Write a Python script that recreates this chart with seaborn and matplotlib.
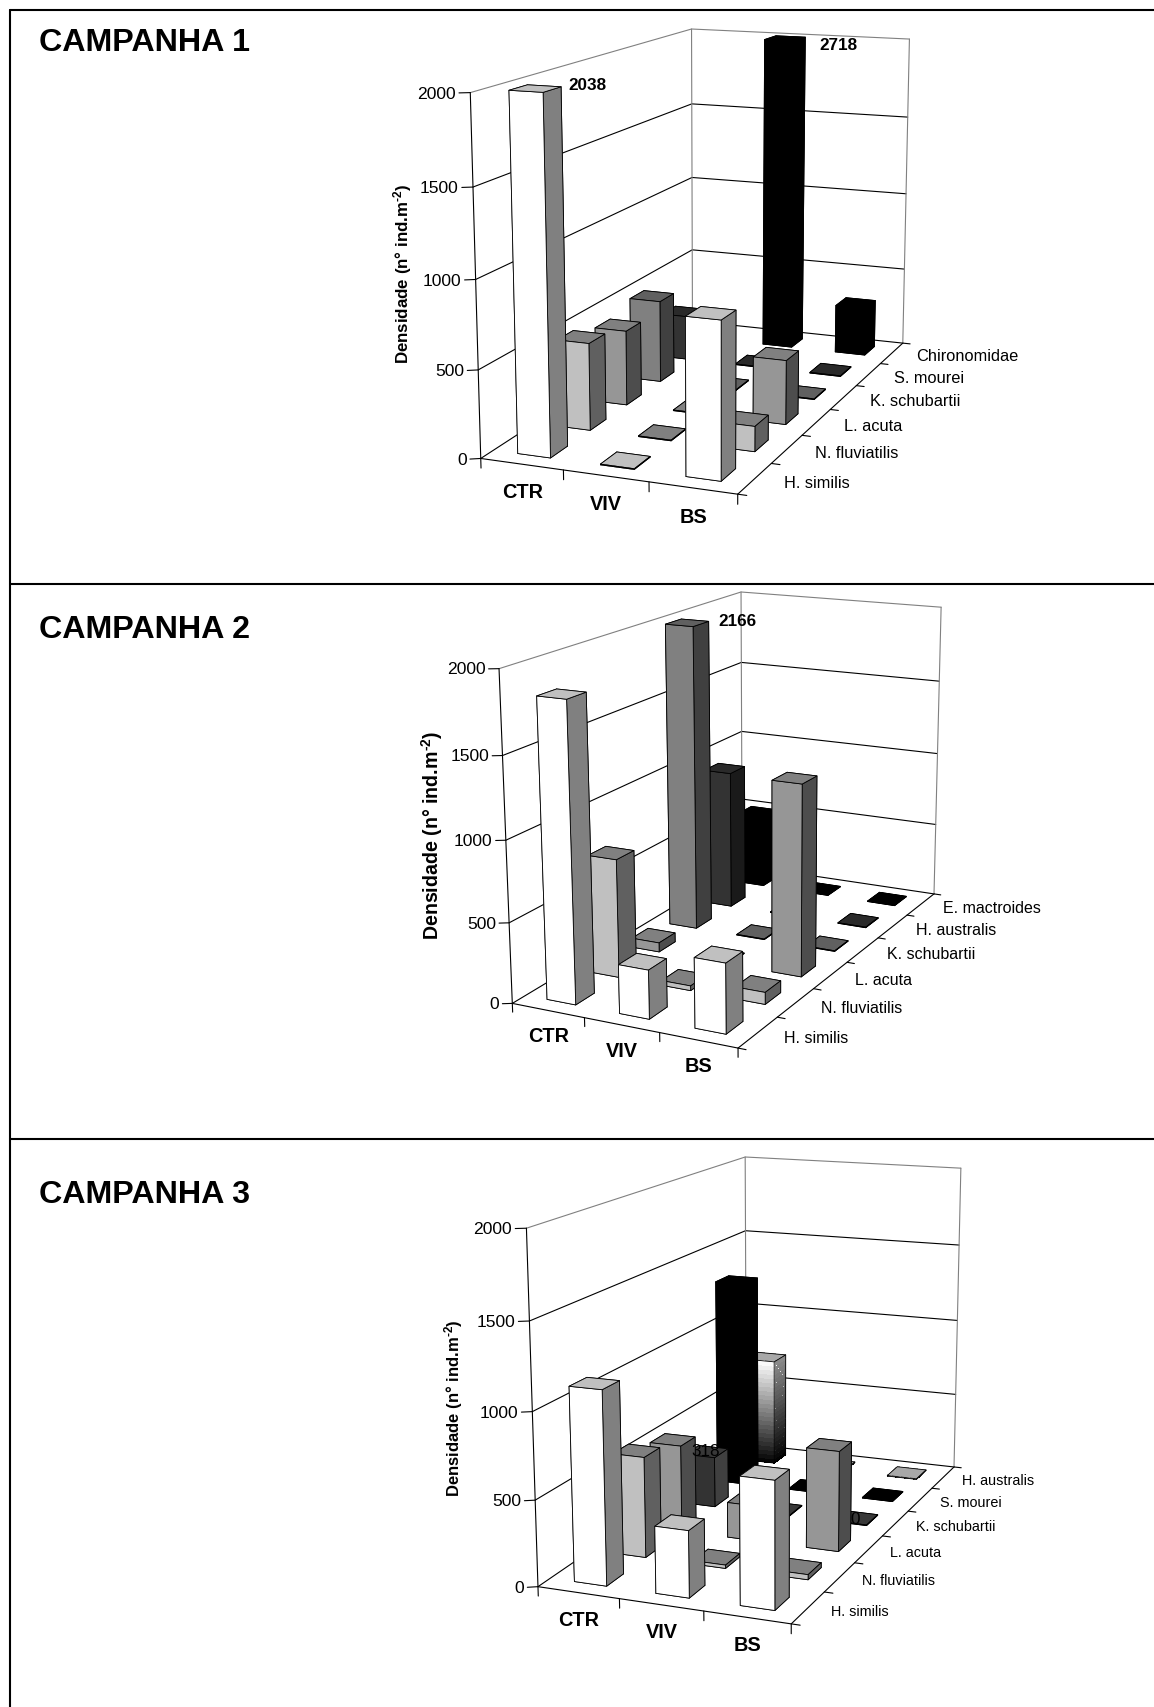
import matplotlib
matplotlib.use("Agg")
import matplotlib.pyplot as plt
from matplotlib.lines import Line2D
import numpy as np
import seaborn as sns
from mpl_toolkits.mplot3d import proj3d

sns.set_theme(style="white")
plt.rcParams['font.family'] = ['Liberation Sans', 'DejaVu Sans']
plt.rcParams['mathtext.fontset'] = 'custom'
plt.rcParams['mathtext.rm'] = 'Liberation Sans:bold'
plt.rcParams['mathtext.bf'] = 'Liberation Sans:bold'
plt.rcParams['mathtext.default'] = 'regular'

W, H = 1154, 1708

sites = ["CTR", "VIV", "BS"]
series_1 = ["H. similis", "N. fluviatilis", "L. acuta", "K. schubartii", "S. mourei", "Chironomidae"]
series_2 = ["H. similis", "N. fluviatilis", "L. acuta", "K. schubartii", "H. australis", "E. mactroides"]
series_3 = ["H. similis", "N. fluviatilis", "L. acuta", "K. schubartii", "S. mourei", "H. australis"]
z_ticks = [0, 500, 1000, 1500, 2000]
z_top = 2000

# one list per site, one value per species
c1_ctr = [2038, 510, 450, 505, 280, 0]
c1_viv = [4, 4, 4, 4, 4, 2718]
c1_bs = [875, 145, 380, 4, 4, 310]
c2_ctr = [1830, 750, 60, 2166, 930, 500]
c2_viv = [300, 30, 4, 4, 4, 4]
c2_bs = [425, 75, 1215, 4, 4, 4]
c3_ctr = [1120, 600, 530, 318, 1320, 700]
c3_viv = [385, 20, 215, 4, 4, 4]
c3_bs = [725, 30, 605, 4, 4, 4]

# (front, right, top) face of the bars of each species
colors_1 = [("#ffffff", "#808080", "#c0c0c0"), ("#c0c0c0", "#606060", "#808080"),
            ("#969696", "#4d4d4d", "#808080"), ("#808080", "#404040", "#606060"),
            ("#333333", "#1a1a1a", "#2a2a2a"), ("#000000", "#000000", "#000000")]
colors_3 = list(colors_1)
colors_3[3] = ("#333333", "#404040", "#383838")
colors_3[4] = ("#000000", "#000000", "#000000")
colors_3[5] = (None, None, "#a8a8a8")

fig = plt.figure(figsize=(W / 100, H / 100), dpi=100, facecolor="white")


def draw_gradient_bar(ax, x0, y0, w, d, h, top, zo):
    # white to black fill of the last species in campaign 3
    n = 24
    dz = h / n
    for i in range(n):
        g = (i + 0.5) / n
        f = (g, g, g)
        r = (g * 0.55, g * 0.55, g * 0.55)
        t = top if i == n - 1 else f
        ax.bar3d(x0, y0, i * dz, w, d, dz, color=[f, t, f, f, f, r], shade=False,
                 linewidth=0, antialiased=False, zorder=zo)
    for x, y in [(x0, y0), (x0 + w, y0), (x0 + w, y0 + d)]:
        ax.plot([x, x], [y, y], [0, h], color="black", lw=0.6, zorder=zo + 0.1)
    ax.plot([x0, x0 + w, x0 + w], [y0, y0, y0 + d], [0, 0, 0], color="black", lw=0.6, zorder=zo + 0.1)
    ax.plot([x0, x0 + w, x0 + w, x0, x0], [y0, y0, y0 + d, y0 + d, y0], [h] * 5,
            color="black", lw=0.6, zorder=zo + 0.1)


def draw_panel(view, names, ctr, viv, bs, colors, cat_size, cat_off):
    elev, azim, roll, f, by, bz, S, cx, cy = view
    ax = fig.add_axes([(cx - S / 2) / W, (cy - S / 2) / H, S / W, S / H], projection="3d",
                      computed_zorder=False)
    ax.set_axis_off()
    ax.patch.set_visible(False)
    ax.view_init(elev, azim, roll)
    ax.set_proj_type("persp", focal_length=f)
    ax.set_box_aspect((1, by, bz), zoom=0.8)
    ax.set_xlim(0, 3)
    ax.set_ylim(0, 6)
    ax.set_zlim(0, z_top)
    ax.set_xticks([])
    ax.set_yticks([])
    ax.set_zticks([])
    M = ax.get_proj()

    def label(x, y, z, s, **kw):
        u, v, _ = proj3d.proj_transform(x, y, z, M)
        ax.text2D(u, v, s, va="center", color="black", zorder=50, **kw)

    # walls, grid and ticks
    for z in z_ticks:
        c = "#808080" if z == z_top else "black"
        ax.plot([0, 0, 3], [0, 6, 6], [z, z, z], color=c, lw=0.8, zorder=1)
        ax.plot([0, -0.1], [0, -0.06], [z, z], color="black", lw=0.8, zorder=1)
        label(-0.13, -0.08, z, str(z), ha="right", fontsize=12.6)
    ax.plot([0, 0], [6, 6], [0, z_top], color="#808080", lw=0.8, zorder=1)
    ax.plot([3, 3], [6, 6], [0, z_top], color="#808080", lw=0.8, zorder=1)
    ax.plot([0, 0], [0, 0], [0, z_top], color="black", lw=0.8, zorder=1)
    ax.plot([0, 3, 3], [0, 0, 6], [0, 0, 0], color="black", lw=0.8, zorder=1)

    for i, s in enumerate(sites):
        ax.plot([i, i], [0, 0], [0, -55], color="black", lw=0.8, zorder=1)
        label(i + 0.5, 0, -155, s, ha="center", fontsize=14.3, fontweight="bold")
    ax.plot([3, 3], [0, 0], [0, -55], color="black", lw=0.8, zorder=1)

    for j, s in enumerate(names):
        ax.plot([3, 3.1], [j, j], [0, 0], color="black", lw=0.8, zorder=1)
        label(cat_off, j + 0.5, 0, s, ha="left", fontsize=cat_size)
    ax.plot([3, 3.1], [6, 6], [0, 0], color="black", lw=0.8, zorder=1)

    # back rows first, then left to right, so nearer bars cover the farther ones
    values = np.array([ctr, viv, bs], dtype=float)
    zo = 2
    for j in range(5, -1, -1):
        for i in range(3):
            h = min(values[i, j], z_top)
            if h <= 0:
                continue
            front, right, top = colors[j]
            x0, y0 = i + 0.3, j + 0.29
            if front is None:
                draw_gradient_bar(ax, x0, y0, 0.4, 0.42, h, top, zo)
            else:
                ax.bar3d(x0, y0, 0, 0.4, 0.42, h, color=[front, top, front, front, front, right],
                         shade=False, edgecolor="black", linewidth=0.6, zorder=zo)
            zo += 1
    return ax


# elev, azim, roll, focal length, box y, box z, axes size and centre in pixels
draw_panel((12.713, -68.260, 0.047, 0.4407, 2.0282, 1.3409, 809.7, 700.8, 1463.6),
           series_1, c1_ctr, c1_viv, c1_bs, colors_1, 11.8, 3.33)
draw_panel((15.311, -63.028, 0.258, 0.4495, 2.0111, 1.3454, 755.8, 729.5, 903.5),
           series_2, c2_ctr, c2_viv, c2_bs, colors_1, 11.5, 3.33)
draw_panel((13.775, -68.146, 0.103, 0.4391, 2.0165, 1.3368, 797.1, 754.6, 334.6),
           series_3, c3_ctr, c3_viv, c3_bs, colors_3, 10.4, 3.26)


def px_text(x, y, s, **kw):
    fig.text(x / W, 1 - y / H, s, ha="center", va="center", color="black", **kw)


ylab = "Densidade (n° ind.m$^{\\text{-2}}$)"
px_text(403, 274, ylab, rotation=90, fontsize=12.2, fontweight="bold")
px_text(432, 835, ylab, rotation=90, fontsize=14.1, fontweight="bold")
px_text(454, 1408, ylab, rotation=90, fontsize=12.0, fontweight="bold")

for label_text, y in [("CAMPANHA 1", 43), ("CAMPANHA 2", 630), ("CAMPANHA 3", 1195)]:
    fig.text(39 / W, 1 - y / H, label_text, ha="left", va="center", fontsize=23.2, fontweight="bold", color="black")

px_text(587, 86, "2038", fontsize=12.3, fontweight="bold")
px_text(838, 46, "2718", fontsize=12.3, fontweight="bold")
px_text(737, 621, "2166", fontsize=12.3, fontweight="bold")
px_text(706, 1452, "318", fontsize=12.3)
px_text(855, 1520, "0", fontsize=12.3)

# table frame
for xs, ys in [([10, 10], [10.5, H]), ([10, W], [10.5, 10.5]), ([10, W], [585, 585]), ([10, W], [1140, 1140])]:
    fig.add_artist(Line2D([x / W for x in xs], [1 - y / H for y in ys], color="black", lw=1.5))

fig.savefig("out.png", dpi=100)
